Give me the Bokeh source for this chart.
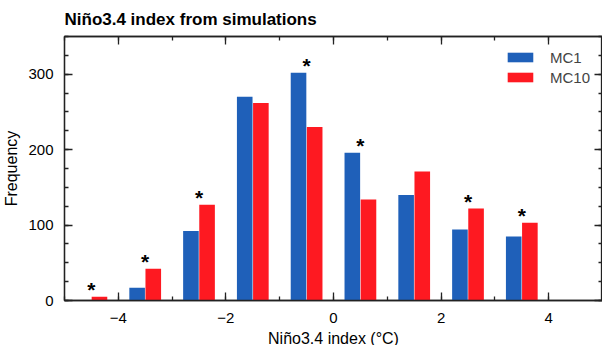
from bokeh.plotting import figure
from bokeh.models import (ColumnDataSource, LinearAxis, FixedTicker, Legend, LegendItem, Range1d,
                          CustomJSTickFormatter)
from bokeh.core.properties import value
from bokeh.embed import file_html
from bokeh.resources import INLINE

# Data
bin_centers = [-4.5, -3.5, -2.5, -1.5, -0.5, 0.5, 1.5, 2.5, 3.5, 4.5]
mc1 = [0, 17, 92, 270, 302, 196, 140, 94, 85, 0]
mc10 = [5, 42, 127, 262, 230, 134, 171, 122, 103, 0]
significant = [1, 1, 1, 0, 1, 1, 0, 1, 1, 0]
x_ticks = [-4, -2, 0, 2, 4]
x_minor = [-5, -4, -3, -2, -1, 0, 1, 2, 3, 4, 5]
y_ticks = [0, 100, 200, 300]
y_minor = [0, 25, 50, 75, 100, 125, 150, 175, 200, 225, 250, 275, 300, 325, 350]

FONT = "Liberation Sans"
BLUE = "#1f60b9"
RED = "#fe1921"
AXC = "#222222"

p = figure(frame_width=538, frame_height=264, output_backend="svg", toolbar_location=None,
           x_range=Range1d(-5, 5), y_range=Range1d(0, 350),
           x_axis_location=None, y_axis_location=None,
           min_border_left=0, min_border_right=0, min_border_top=0, min_border_bottom=0)
p.grid.visible = False
p.outline_line_color = AXC
p.outline_line_width = 1.3
p.background_fill_color = "white"
p.border_fill_color = "white"

p.title.text = "Niño3.4 index from simulations"
p.title.text_font = FONT
p.title.text_font_size = "17px"
p.title.text_font_style = "bold"
p.title.text_color = "black"
p.title.align = "left"
p.title.offset = 0
p.title.standoff = 15

half = 0.15
w = 0.29
src = ColumnDataSource(dict(
    xb=[c - half for c in bin_centers],
    xr=[c + half for c in bin_centers],
    mc1=mc1, mc10=mc10))
rb = p.vbar(x="xb", top="mc1", width=w, bottom=0, source=src, fill_color=BLUE, line_color=None)
rr = p.vbar(x="xr", top="mc10", width=w, bottom=0, source=src, fill_color=RED, line_color=None)

sx = [c for c, s in zip(bin_centers, significant) if s]
sy = [max(a, b) for a, b, s in zip(mc1, mc10, significant) if s]
p.text(x=sx, y=sy, text=["*"] * len(sx), text_font=value(FONT), text_font_size="21px",
       text_font_style="bold", text_align="center", text_baseline="alphabetic",
       y_offset=-7, text_color="black")

blank = CustomJSTickFormatter(code="return '';")

def style_axis(ax, labels=True):
    ax.axis_line_color = AXC
    ax.axis_line_width = 1.3
    ax.major_tick_line_color = AXC
    ax.minor_tick_line_color = AXC
    ax.major_tick_line_width = 1.3
    ax.minor_tick_line_width = 1.3
    ax.major_tick_in = 8
    ax.major_tick_out = 0
    ax.minor_tick_in = 4
    ax.minor_tick_out = 0
    ax.major_label_text_font = FONT
    ax.major_label_text_font_size = "15px"
    ax.major_label_text_color = "black"
    ax.axis_label_text_font = FONT
    ax.axis_label_text_font_size = "16px"
    ax.axis_label_text_font_style = "normal"
    ax.axis_label_text_color = "black"
    if not labels:
        ax.formatter = blank
        ax.major_label_standoff = 0

xt = FixedTicker(ticks=x_ticks, minor_ticks=x_minor)
yt = FixedTicker(ticks=y_ticks, minor_ticks=y_minor)

xb = LinearAxis(ticker=xt, axis_label="Niño3.4 index (°C)")
style_axis(xb)
xb.major_label_standoff = 12
xb.axis_label_standoff = 4
xb.axis_label_text_line_height = 0.8
xb.major_label_overrides = {-4: "−4", -2: "−2"}
p.add_layout(xb, "below")

xa = LinearAxis(ticker=xt)
style_axis(xa, labels=False)
p.add_layout(xa, "above")

yl = LinearAxis(ticker=yt, axis_label="Frequency")
style_axis(yl)
yl.major_label_standoff = 11
yl.axis_label_standoff = 5
p.add_layout(yl, "left")

yr = LinearAxis(ticker=yt)
style_axis(yr, labels=False)
p.add_layout(yr, "right")

legend = Legend(items=[LegendItem(label="MC1", renderers=[rb]),
                       LegendItem(label="MC10", renderers=[rr])],
                location="top_right")
legend.border_line_color = None
legend.background_fill_alpha = 0
legend.label_text_font = FONT
legend.label_text_font_size = "15px"
legend.label_text_line_height = 1.0
legend.glyph_width = 32
legend.glyph_height = 12
legend.label_standoff = 14
legend.spacing = 2
legend.margin = 12
legend.padding = 0
legend.label_height = 18
p.add_layout(legend)

open("out.html", "w").write(file_html(p, INLINE))
